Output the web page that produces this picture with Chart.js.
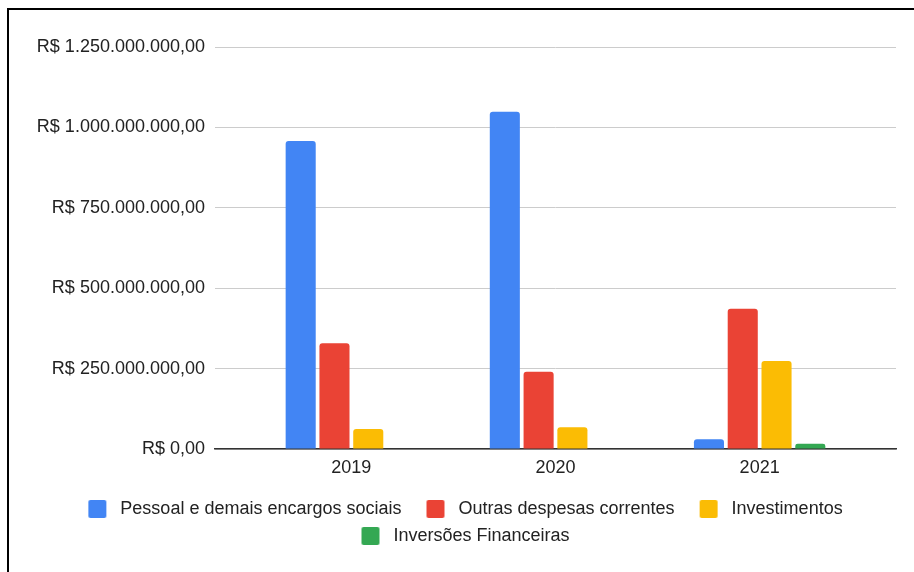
<!DOCTYPE html>
<html>
<head>
<meta charset="utf-8">
<script src="https://cdn.jsdelivr.net/npm/chart.js@4.4.0/dist/chart.umd.min.js"></script>
<style>
  html, body { margin: 0; padding: 0; background: #fff; overflow: hidden; }
  #wrap { position: relative; width: 914px; height: 572px; background: #fff; }
  #frame { position: absolute; left: 7px; top: 8px; width: 1000px; height: 1000px;
           border-left: 2px solid #000; border-top: 2px solid #000; pointer-events: none; }
</style>
</head>
<body>
<div id="wrap">
  <canvas id="c" width="914" height="572"></canvas>
  <div id="frame"></div>
</div>
<script>
const categories = ['2019', '2020', '2021'];
const seriesNames = ['Pessoal e demais encargos sociais', 'Outras despesas correntes', 'Investimentos', 'Inversões Financeiras'];
const pessoal = [958000000, 1049000000, 30000000];
const outras = [329000000, 240000000, 436000000];
const investimentos = [62000000, 68000000, 274000000];
const inversoes = [null, null, 16500000];
const colors = ['#4285F4', '#EA4335', '#FBBC04', '#34A853'];
const yTicks = [0, 250000000, 500000000, 750000000, 1000000000, 1250000000];

function fmtBRL(v) {
  const s = Math.round(v).toString().replace(/\B(?=(\d{3})+(?!\d))/g, '.');
  return 'R$ ' + s + ',00';
}

function legendSwatch(color) {
  const cv = document.createElement('canvas');
  cv.width = 39; cv.height = 18;
  const ctx = cv.getContext('2d');
  ctx.fillStyle = color;
  ctx.beginPath();
  if (ctx.roundRect) ctx.roundRect(16, 0, 18, 18, 2); else ctx.rect(16, 0, 18, 18);
  ctx.fill();
  return cv;
}
const swatches = colors.map(legendSwatch);

const allSeries = [pessoal, outras, investimentos, inversoes];
const datasets = allSeries.map((vals, si) => ({
  label: seriesNames[si],
  data: vals.map((v, i) => ({ x: i, y: v })),
  backgroundColor: colors[si],
  borderWidth: 0,
  borderRadius: 3,
  categoryPercentage: 0.662,
  barPercentage: 0.89
}));

Chart.defaults.font.family = '"Liberation Sans", Arial, sans-serif';
Chart.defaults.color = '#222';

new Chart(document.getElementById('c'), {
  type: 'bar',
  data: { datasets },
  options: {
    responsive: false,
    animation: false,
    devicePixelRatio: 1,
    layout: { padding: { top: 47, left: 19, right: 18, bottom: 17 } },
    plugins: {
      tooltip: { enabled: false },
      legend: {
        position: 'bottom',
        labels: {
          font: { size: 18 },
          color: '#222',
          padding: 9,
          usePointStyle: true,
          pointStyleWidth: 39,
          boxHeight: 18,
          generateLabels(chart) {
            const items = Chart.defaults.plugins.legend.labels.generateLabels(chart);
            items.forEach((it, i) => { it.pointStyle = swatches[i]; });
            return items;
          }
        }
      }
    },
    scales: {
      x: {
        type: 'linear',
        min: -0.668,
        max: 2.668,
        offset: false,
        grid: { display: false, drawTicks: false },
        border: { display: true, color: '#333', width: 1.5 },
        afterBuildTicks(scale) { scale.ticks = categories.map((c, i) => ({ value: i })); },
        afterFit(scale) { scale.height = 42; },
        ticks: {
          font: { size: 18 },
          color: '#222',
          padding: 8,
          autoSkip: false,
          maxRotation: 0,
          callback: (v) => categories[v]
        }
      },
      y: {
        min: 0,
        max: 1250000000,
        afterBuildTicks(scale) { scale.ticks = yTicks.map(v => ({ value: v })); },
        afterFit(scale) { scale.width = 196; },
        grid: { color: '#cccccc', lineWidth: 1, drawTicks: false },
        border: { display: false },
        ticks: {
          font: { size: 18 },
          color: '#222',
          padding: 10,
          callback: (v) => fmtBRL(v)
        }
      }
    }
  }
});
</script>
</body>
</html>
